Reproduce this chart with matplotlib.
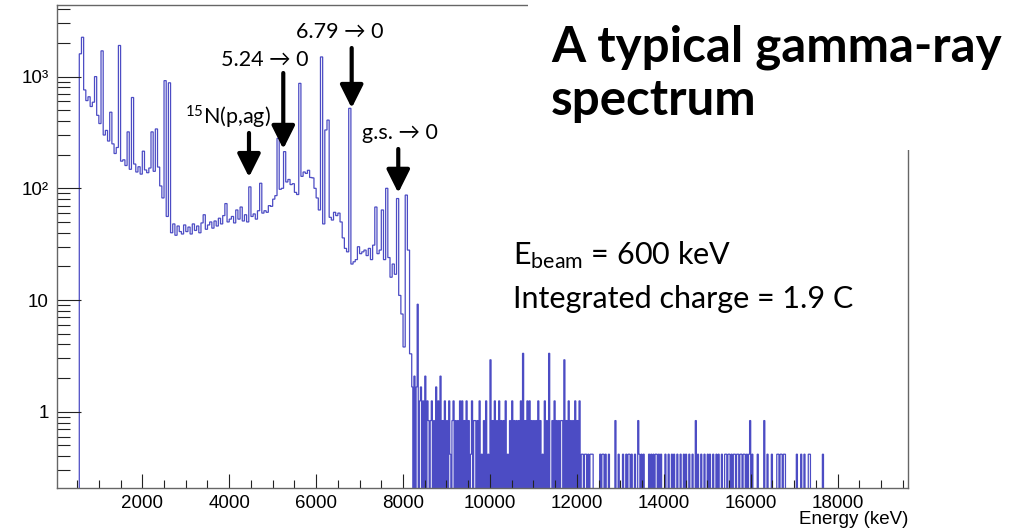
import numpy as np
import matplotlib
matplotlib.use("Agg")
import matplotlib.pyplot as plt
from matplotlib.patches import Rectangle
from matplotlib.ticker import MultipleLocator, FixedLocator, FixedFormatter

plt.rcParams['mathtext.fontset'] = 'custom'
plt.rcParams['mathtext.rm'] = 'Lato'

# spectrum below 8200 keV: 50 keV bins starting at 550 keV (values as plotted)
low_start = 550
low_width = 50
low_counts = [
    1600, 2250, 760, 610, 660, 540, 590, 1000, 450, 380,
    1700, 300, 330, 265, 480, 250, 205, 232, 1900, 175,
    180, 160, 320, 148, 650, 165, 140, 156, 134, 215,
    146, 138, 152, 320, 142, 340, 155, 105, 82, 920,
    56, 880, 40, 48, 38, 46, 41, 39, 47, 41,
    45, 39, 48, 42, 46, 40, 49, 58, 43, 47,
    50, 44, 51, 46, 54, 48, 57, 73, 50, 53,
    56, 49, 64, 53, 68, 51, 58, 50, 103, 56,
    59, 53, 63, 111, 60, 63, 61, 70, 69, 80,
    86, 280, 98, 100, 213, 114, 120, 108, 110, 92,
    88, 870, 128, 140, 136, 145, 125, 124, 100, 82,
    64, 1500, 48, 333, 408, 55, 52, 61, 57, 60,
    50, 36, 29, 27, 520, 21, 22, 23, 30, 26,
    27, 28, 25, 29, 23, 31, 68, 26, 28, 64,
    23, 100, 24, 16, 21, 17, 81, 11, 7.5, 3.8,
    87, 28, 3.3,
]

# high energy tail: 25 keV bins from 8200 keV, raw counts
# (one base-36 digit per bin, so 'm' = 22)
high_start = 8200
high_width = 25
count_scale = 0.4167
high_digits = (
    "40504m03"
    "4030503202" "3020403050" "2030203102" "3020203030" "2030201302"
    "2020301020" "3010702030" "2030202030" "1020302020" "2030802030"
    "3020202030" "2010302080" "0203020202" "2070203020" "20302030"
    "1101101011" "1000000101" "1010010000" "0200100010" "0101101001"
    "0021010100" "0010101011" "0101000100" "1001010010" "0100101001"
    "0010020100" "1001001010" "0100101001" "0011011010" "1101101101"
    "1010120100" "0010000020" "0100010000" "1101101100" "0000000010"
    "0010010001" "1000000000" "001"
)

xticks_major = [2000, 4000, 6000, 8000, 10000, 12000, 14000, 16000, 18000]
yticks_major = [1, 10, 100, 1000]
ytick_labels = ["1", "10", "10²", "10³"]

peak_labels = ["6.79 → 0", "5.24 → 0", r"$\mathrm{^{15}}$N(p,ag)", "g.s. → 0"]
peak_energy = [6818, 5244, 4455, 7890]

low_edges = low_start + low_width * np.arange(len(low_counts) + 1)
high_counts = np.array([int(c, 36) for c in high_digits]) * count_scale
high_edges = high_start + high_width * np.arange(len(high_counts) + 1)

values = np.concatenate([low_counts, high_counts])
edges = np.concatenate([low_edges, high_edges[1:]])
values = np.where(values > 0, values, 1e-3)  # empty bins drop to the floor

fig = plt.figure(figsize=(10.22, 5.32), dpi=100)
ax = fig.add_axes([57 / 1022, 1 - 487.7 / 532, 851 / 1022, 482.7 / 532])

ax.stairs(values, edges, baseline=1e-3, color='#4c4cc4', lw=0.9)

ax.set_yscale('log')
ax.set_xlim(37, 19620)
ax.set_ylim(0.209, 4375)

ax.xaxis.set_major_locator(FixedLocator(xticks_major))
ax.xaxis.set_minor_locator(MultipleLocator(500))
ax.yaxis.set_major_locator(FixedLocator(yticks_major))
ax.yaxis.set_major_formatter(FixedFormatter(ytick_labels))
ax.yaxis.set_minor_locator(FixedLocator([0.3, 0.4, 0.5, 0.6, 0.7, 0.8, 0.9] +
                                         [m * d for d in (1, 10, 100) for m in range(2, 10)] +
                                         [2000, 3000, 4000]))
ax.yaxis.set_minor_formatter(FixedFormatter([]))

ax.tick_params(axis='both', which='both', direction='in', color='#222222',
               top=False, right=False, labelsize=13.5)
ax.tick_params(axis='x', which='major', length=10, width=0.8, pad=5)
ax.tick_params(axis='x', which='minor', length=5.5, width=0.8)
ax.tick_params(axis='y', which='major', length=17, width=0.8, pad=6)
ax.tick_params(axis='y', which='minor', length=9.5, width=0.8)
for lab in ax.get_xticklabels() + ax.get_yticklabels():
    lab.set_fontfamily('Liberation Sans')
for sp in ax.spines.values():
    sp.set_color('#666666')
    sp.set_linewidth(1.0)

fig.text(908 / 1022, 1 - 520 / 532, "Energy (keV)", ha='right', va='center',
         family='Liberation Sans', size=13.5)

# arrows pointing at the lines
arrow_tail = [1803, 1077, 313, 225]
arrow_tip = [523, 225, 126, 91]
for e, top, tip in zip(peak_energy, arrow_tail, arrow_tip):
    ax.annotate("", xy=(e, tip), xytext=(e, top),
                arrowprops=dict(arrowstyle='-|>,head_length=0.7,head_width=0.35',
                                color='black', lw=3, mutation_scale=20,
                                shrinkA=0, shrinkB=0))

label_pos = [(6549, 2506), (4823, 1408), (3960, 435), (7930, 313)]
for txt, (lx, ly) in zip(peak_labels, label_pos):
    ax.text(lx, ly, txt, ha='center', va='center', fontsize=15.5,
            family=['Lato', 'DejaVu Sans'])

# white block behind the title hides the frame corner
fig.patches.append(Rectangle((528 / 1022, 1 - 150 / 532), 1, 1,
                             transform=fig.transFigure, facecolor='white',
                             edgecolor='none', zorder=5))
fig.text(551 / 1022, 1 - 62 / 532, "A typical gamma-ray", ha='left',
         va='baseline', fontsize=35.5, fontweight='bold', family='Lato', zorder=6)
fig.text(551 / 1022, 1 - 115 / 532, "spectrum", ha='left',
         va='baseline', fontsize=35.5, fontweight='bold', family='Lato', zorder=6)

fig.text(513 / 1022, 1 - 264 / 532, r"E$\mathrm{_{beam}}$ = 600 keV", ha='left',
         va='baseline', fontsize=22, family='Lato')
fig.text(513 / 1022, 1 - 308 / 532, "Integrated charge = 1.9 C", ha='left',
         va='baseline', fontsize=22, family='Lato')

fig.savefig("out.png", dpi=100)
